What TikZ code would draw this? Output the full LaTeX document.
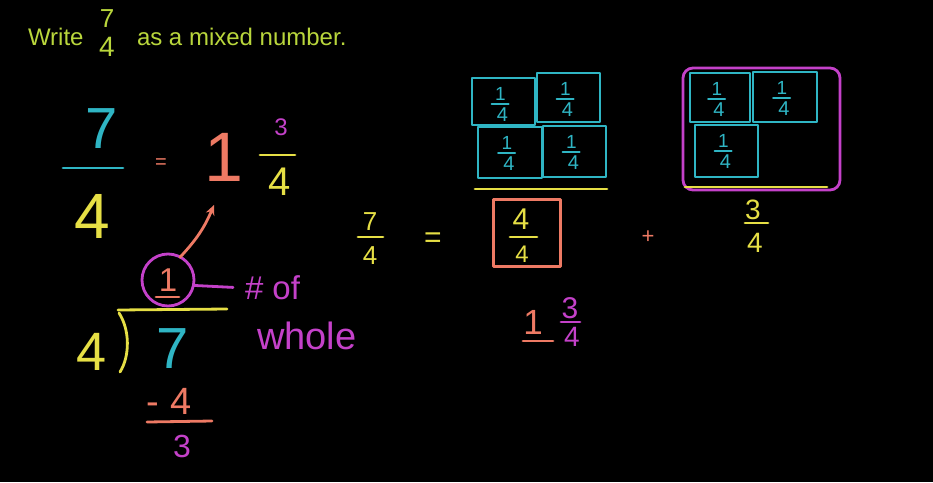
\documentclass[tikz,border=0pt]{standalone}
\usepackage{fontspec}
\setmainfont{Liberation Sans}
\usetikzlibrary{arrows.meta}
\newcommand\hsz[1]{\fontsize{#1}{#1}\selectfont}

\begin{document}
\begin{tikzpicture}[x=1pt,y=-1pt,line cap=round,line join=round,
	ink/.style={inner sep=0pt,outer sep=0pt},
	pen/.style={line width=2.8pt}]
\definecolor{kaTitle}{HTML}{B9D63C}
\definecolor{kaCyan}{HTML}{2FB5C4}
\definecolor{kaYellow}{HTML}{E6DF45}
\definecolor{kaSalmon}{HTML}{EE7A64}
\definecolor{kaMagenta}{HTML}{C441C9}

\fill[black] (0,0) rectangle (933,482);

\node[ink,anchor=base west,text=kaTitle,font=\hsz{24}] (write) at (28,45) {Write};
\node[ink,text=kaTitle,font=\hsz{26}] (titlenum) at (107,19) {7};
\node[ink,text=kaTitle,font=\hsz{28}] (titleden) at (107,47) {4};
\node[ink,anchor=base west,text=kaTitle,font=\hsz{24}] (mixed) at (137,45) {as a mixed number.};

\node[ink,text=kaCyan,font=\hsz{58}] (bignum) at (102,129) {7};
\draw[pen,kaCyan] (63,168) -- (123,168);
\node[ink,text=kaYellow,font=\hsz{64}] (bigden) at (92,216) {4};
\node[ink,text=kaSalmon,font=\hsz{20}] (lefteq) at (161,164) {=};
\node[ink,text=kaSalmon,font=\hsz{70}] (one) at (224,157) {1};
\node[ink,text=kaMagenta,font=\hsz{24}] (restnum) at (281,127) {3};
\draw[pen,kaYellow] (260,155) -- (295,155);
\node[ink,text=kaYellow,font=\hsz{40}] (restden) at (280,182) {4};

\node[ink,circle,draw=kaMagenta,pen,minimum size=52pt,text=kaSalmon,font=\hsz{33}] (circ) at (168,280) {\raisebox{-3pt}{1}};
\draw[pen,kaSalmon] (156,297) -- (179,297);
\coordinate (onetip) at (214,205);
\draw[pen,kaSalmon,-{Stealth[open,length=10pt,width=9pt]}] (circ.62) to[bend right=10] (onetip);
\node[ink,anchor=west,text=kaMagenta,font=\hsz{33}] (numof) at (245,288) {\# of};
\draw[pen,kaMagenta,shorten >=12pt] (circ.-12) -- (numof.west);
\node[ink,anchor=west,text=kaMagenta,font=\hsz{38}] (whole) at (257,336) {whole};

\node[ink,text=kaYellow,font=\hsz{54}] (divisor) at (92,352) {4};
\draw[pen,kaYellow] (118,310) -- (227,309);
\draw[pen,kaYellow] (119,313) .. controls (130,330) and (130,356) .. (120,372);
\node[ink,text=kaCyan,font=\hsz{58}] (dividend) at (173,349) {7};
\node[ink,text=kaSalmon,font=\hsz{38}] (minusfour) at (169,401) {- 4};
\draw[pen,kaSalmon] (147,422) -- (212,421);
\node[ink,text=kaMagenta,font=\hsz{32}] (remainder) at (182,446) {3};

\node[ink,text=kaYellow,font=\hsz{26}] (midnum) at (370,222) {7};
\draw[pen,kaYellow] (358,237) -- (383,237);
\node[ink,text=kaYellow,font=\hsz{26}] (midden) at (370,256) {4};
\node[ink,text=kaYellow,font=\hsz{30}] (mideq) at (433,240) {=};

\foreach \nm/\xa/\ya/\xb/\yb in {
	qa/472/78/535/125,
	qb/537/73/600/122,
	qc/478/127/542/178,
	qd/543/126/606/177,
	qe/690/73/750/122,
	qf/753/72/817/122,
	qg/695/125/758/177
} {
	\draw[pen,kaCyan] (\xa,\ya) rectangle (\xb,\yb);
	\node[ink,text=kaCyan,font=\hsz{19}] (\nm n) at ({(\xa+\xb)/2-3},{\ya+16}) {1};
	\draw[line width=2pt,kaCyan] ({(\xa+\xb)/2-12},{\ya+26}) -- ({(\xa+\xb)/2+5},{\ya+26});
	\node[ink,text=kaCyan,font=\hsz{20}] (\nm d) at ({(\xa+\xb)/2-1},{\ya+37}) {4};
}

\draw[pen,kaYellow] (475,189) -- (607,189);
\node[ink,draw=kaSalmon,pen,minimum width=67pt,minimum height=67pt] (wholebox) at (527,233) {};
\node[ink,text=kaYellow,font=\hsz{30}] (boxnum) at (521,219) {4};
\draw[pen,kaYellow] (510,237) -- (537,237);
\node[ink,text=kaYellow,font=\hsz{24}] (boxden) at (522,254) {4};
\node[ink,text=kaSalmon,font=\hsz{22}] (plus) at (648,237) {+};

\node[ink,text=kaSalmon,font=\hsz{35}] (lowone) at (533,322) {1};
\draw[pen,kaSalmon] (523,341) -- (553,341);
\node[ink,text=kaMagenta,font=\hsz{30}] (lownum) at (570,308) {3};
\draw[pen,kaMagenta] (561,322) -- (580,322);
\node[ink,text=kaMagenta,font=\hsz{28}] (lowden) at (572,337) {4};

\draw[pen,kaMagenta,rounded corners=10pt] (683,68) rectangle (840,190);
\draw[pen,kaYellow] (685,187) -- (827,187);
\node[ink,text=kaYellow,font=\hsz{28}] (rightnum) at (753,210) {3};
\draw[pen,kaYellow] (745,223) -- (768,223);
\node[ink,text=kaYellow,font=\hsz{28}] (rightden) at (755,243) {4};
\end{tikzpicture}
\end{document}
